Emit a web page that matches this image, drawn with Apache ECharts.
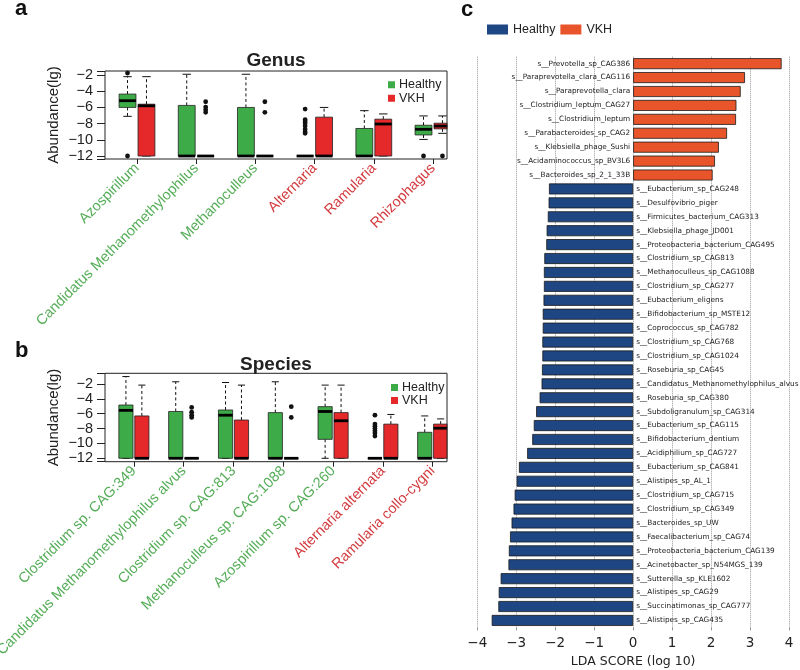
<!DOCTYPE html>
<html><head><meta charset="utf-8">
<script src="https://cdn.jsdelivr.net/npm/echarts@6/dist/echarts.min.js"></script>
<style>html,body{margin:0;padding:0;background:#fff}#c{width:800px;height:670px}</style>
</head><body><div id="c"></div>
<script>
// ---------- Panel a: Genus ----------
const genusCats = ['Azospirillum','Candidatus Methanomethylophilus','Methanoculleus','Alternaria','Ramularia','Rhizophagus'];
const genusEnriched = ['Healthy','Healthy','Healthy','VKH','VKH','VKH'];
// [min, Q1, median, Q3, max]
const genusHealthy = [
  [-7.1,-6.0,-5.17,-4.35,-2.2],
  [-12,-12,-12,-5.75,-1.9],
  [-12,-12,-12,-6.0,-1.9],
  [-12,-12,-12,-12,-12],
  [-12,-12,-12,-8.6,-6.4],
  [-9.95,-9.4,-8.7,-8.2,-7.05]
];
const genusHealthyOut = [[0,-1.75],[0,-12],[3,-6.2],[3,-7.5],[3,-7.7],[3,-7.95],[3,-8.3],[3,-8.7],[3,-9.0],[3,-9.2],[5,-12]];
const genusVKH = [
  [-12,-12,-5.8,-5.6,-2.2],
  [-12,-12,-12,-12,-12],
  [-12,-12,-12,-12,-12],
  [-12,-12,-12,-7.2,-6.0],
  [-12,-12,-8.05,-7.45,-6.8],
  [-9.2,-8.65,-8.3,-7.95,-7.05]
];
const genusVKHOut = [[1,-5.3],[1,-5.95],[1,-6.3],[1,-6.6],[2,-5.3],[2,-6.6],[5,-12]];

// ---------- Panel b: Species ----------
const speciesCats = ['Clostridium sp. CAG:349','Candidatus Methanomethylophilus alvus','Clostridium sp. CAG:813','Methanoculleus sp. CAG:1088','Azospirillum sp. CAG:260','Alternaria alternata','Ramularia collo-cygni'];
const speciesEnriched = ['Healthy','Healthy','Healthy','Healthy','Healthy','VKH','VKH'];
const speciesHealthy = [
  [-12,-12,-5.55,-4.83,-1.0],
  [-12,-12,-12,-5.7,-1.7],
  [-12,-12,-6.2,-5.5,-1.8],
  [-12,-12,-12,-5.85,-1.7],
  [-12,-9.45,-5.7,-5.05,-2.15],
  [-12,-12,-12,-12,-12],
  [-12,-12,-12,-8.5,-6.3]
];
const speciesHealthyOut = [[5,-6.2],[5,-7.4],[5,-7.7],[5,-8.0],[5,-8.3],[5,-8.6],[5,-9.0]];
const speciesVKH = [
  [-12,-12,-12,-6.3,-2.15],
  [-12,-12,-12,-12,-12],
  [-12,-12,-12,-6.85,-2.15],
  [-12,-12,-12,-12,-12],
  [-12,-12,-6.95,-5.85,-2.15],
  [-12,-12,-12,-7.4,-6.1],
  [-12,-12,-7.95,-7.4,-6.7]
];
const speciesVKHOut = [[1,-5.15],[1,-5.8],[1,-6.2],[1,-6.5],[3,-5.05],[3,-6.5]];

// ---------- Panel c: LDA ----------
const ldaNames = ['s__Prevotella_sp_CAG386','s__Paraprevotella_clara_CAG116','s__Paraprevotella_clara','s__Clostridium_leptum_CAG27','s__Clostridium_leptum','s__Parabacteroides_sp_CAG2','s__Klebsiella_phage_Sushi','s__Acidaminococcus_sp_BV3L6','s__Bacteroides_sp_2_1_33B','s__Eubacterium_sp_CAG248','s__Desulfovibrio_piger','s__Firmicutes_bacterium_CAG313','s__Klebsiella_phage_JD001','s__Proteobacteria_bacterium_CAG495','s__Clostridium_sp_CAG813','s__Methanoculleus_sp_CAG1088','s__Clostridium_sp_CAG277','s__Eubacterium_eligens','s__Bifidobacterium_sp_MSTE12','s__Coprococcus_sp_CAG782','s__Clostridium_sp_CAG768','s__Clostridium_sp_CAG1024','s__Roseburia_sp_CAG45','s__Candidatus_Methanomethylophilus_alvus','s__Roseburia_sp_CAG380','s__Subdoligranulum_sp_CAG314','s__Eubacterium_sp_CAG115','s__Bifidobacterium_dentium','s__Acidiphilium_sp_CAG727','s__Eubacterium_sp_CAG841','s__Alistipes_sp_AL_1','s__Clostridium_sp_CAG715','s__Clostridium_sp_CAG349','s__Bacteroides_sp_UW','s__Faecalibacterium_sp_CAG74','s__Proteobacteria_bacterium_CAG139','s__Acinetobacter_sp_N54MGS_139','s__Sutterella_sp_KLE1602','s__Alistipes_sp_CAG29','s__Succinatimonas_sp_CAG777','s__Alistipes_sp_CAG435'];
const ldaScores = [3.81,2.87,2.76,2.65,2.64,2.41,2.20,2.10,2.04,-2.16,-2.17,-2.19,-2.22,-2.23,-2.28,-2.29,-2.29,-2.30,-2.32,-2.32,-2.33,-2.33,-2.34,-2.35,-2.40,-2.49,-2.55,-2.59,-2.72,-2.93,-2.99,-3.04,-3.07,-3.12,-3.16,-3.19,-3.20,-3.40,-3.45,-3.46,-3.63];
const ldaGroup = ldaScores.map(v => v > 0 ? 'VKH' : 'Healthy');
const ldaTicks = [-4,-3,-2,-1,0,1,2,3,4];

// ---------- styling ----------
const GREEN='#3DAB48', RED='#E5292B', GREEN_T='#55AD58', RED_T='#D23A3E', NAVY='#1E4683', ORANGE='#E9552A';
const boxColor = {Healthy: GREEN, VKH: RED};
const textColor = {Healthy: GREEN_T, VKH: RED_T};
const FONT_R = '"Liberation Sans", Arial, Helvetica, sans-serif';
const FONT_M = '"DejaVu Sans", sans-serif';
const minus = v => (v < 0 ? '\u2212' + Math.abs(v) : String(v));

function boxRender(offsetFrac, widthFrac, fill) {
  return function (params, api) {
    const ci = api.value(0);
    const band = api.size([1, 0])[0];
    const cx = api.coord([ci, -12])[0] + offsetFrac * band;
    const w = widthFrac * band;
    const y = v => api.coord([ci, v])[1];
    const yMin = y(api.value(1)), yQ1 = y(api.value(2)), yMed = y(api.value(3)), yQ3 = y(api.value(4)), yMax = y(api.value(5));
    const cw = w * 0.5;
    const ls = {stroke:'#111', lineWidth:1};
    return {type:'group', children:[
      {type:'line', shape:{x1:cx,y1:yQ3,x2:cx,y2:yMax}, style:{stroke:'#111',lineWidth:1,lineDash:[3,2.5]}},
      {type:'line', shape:{x1:cx,y1:yQ1,x2:cx,y2:yMin}, style:{stroke:'#111',lineWidth:1,lineDash:[3,2.5]}},
      {type:'line', shape:{x1:cx-cw/2,y1:yMax,x2:cx+cw/2,y2:yMax}, style:ls},
      {type:'line', shape:{x1:cx-cw/2,y1:yMin,x2:cx+cw/2,y2:yMin}, style:ls},
      {type:'rect', shape:{x:cx-w/2,y:yQ3,width:w,height:yQ1-yQ3}, style:{fill:fill,stroke:'#222',lineWidth:0.8}},
      {type:'line', shape:{x1:cx-w/2,y1:yMed,x2:cx+w/2,y2:yMed}, style:{stroke:'#000',lineWidth:2.8}}
    ]};
  };
}
function outRender(offsetFrac) {
  return function (params, api) {
    const ci = api.value(0);
    const band = api.size([1, 0])[0];
    const p = api.coord([ci, api.value(1)]);
    return {type:'circle', shape:{cx:p[0] + offsetFrac*band, cy:p[1], r:2.4}, style:{fill:'#111'}};
  };
}
function boxSeries(name, stats, idx, off) {
  return {type:'custom', name, xAxisIndex:idx, yAxisIndex:idx, silent:true, z:3,
    itemStyle:{color: boxColor[name]},
    data: stats.map((s,i)=>[i].concat(s)), encode:{x:0, y:[1,2,3,4,5]},
    renderItem: boxRender(off, 0.285, boxColor[name])};
}
function outSeries(name, pts, idx, off) {
  return {type:'custom', name, xAxisIndex:idx, yAxisIndex:idx, silent:true, z:4,
    itemStyle:{color: boxColor[name]},
    data: pts, encode:{x:0, y:1}, renderItem: outRender(off)};
}
function catAxis(idx, cats, enriched) {
  return {type:'category', gridIndex:idx, boundaryGap:true,
    data: cats.map((c,i)=>({value:c, textStyle:{color:textColor[enriched[i]]}})),
    axisLine:{show:false}, axisTick:{show:true, alignWithLabel:true, length:5, lineStyle:{color:'#222'}},
    axisLabel:{rotate:45, margin:7, fontSize:14.5, fontFamily:FONT_R, interval:0}, splitLine:{show:false}};
}
function valAxis(idx, min, max, off) {
  return {type:'value', gridIndex:idx, min, max, splitNumber:5, offset:off,
    name:'Abundance(lg)', nameLocation:'middle', nameGap:44,
    nameTextStyle:{fontSize:15, color:'#222', fontFamily:FONT_R},
    axisLine:{show:false}, axisTick:{show:true, length:8, lineStyle:{color:'#222'}},
    axisLabel:{fontSize:14.5, color:'#222', fontFamily:FONT_R, margin:12,
      formatter: v => (Math.abs(v - Math.round(v)) < 1e-6 && Math.round(v) % 2 === 0) ? minus(Math.round(v)) : ''},
    splitLine:{show:false}};
}
function boxLegend(left, top, lh) {
  return {left, top, orient:'vertical', icon:'rect', itemWidth:7, itemHeight:7, itemGap:0,
    selectedMode:false,
    textStyle:{fontSize:12.5, color:'#222', fontFamily:FONT_R, lineHeight:lh, padding:[0,0,0,-1]},
    data:[{name:'Healthy', itemStyle:{color:GREEN, borderWidth:0}}, {name:'VKH', itemStyle:{color:RED, borderWidth:0}}]};
}

const option = {
  backgroundColor:'#fff',
  animation:false,
  grid:[
    {left:107.4, top:71, width:355.2, height:88, outerBoundsMode:'none'},
    {left:109, top:373.3, width:348.6, height:88.4, outerBoundsMode:'none'},
    {left:477.3, top:56.7, width:311.7, height:570.7, outerBoundsMode:'none'}
  ],
  legend:[
    boxLegend(383, 73, 13.5),
    boxLegend(386, 376, 12.7),
    {left:482, top:18, orient:'horizontal', icon:'rect', itemWidth:21, itemHeight:10, itemGap:5,
     selectedMode:false, textStyle:{fontSize:12.5, color:'#222', fontFamily:FONT_R},
     data:[{name:'Healthy', itemStyle:{color:NAVY, borderWidth:0}}, {name:'VKH', itemStyle:{color:ORANGE, borderWidth:0}}]}
  ],
  xAxis:[
    catAxis(0, genusCats, genusEnriched),
    catAxis(1, speciesCats, speciesEnriched),
    {type:'value', gridIndex:2, min:ldaTicks[0], max:ldaTicks[ldaTicks.length-1], interval:1,
     name:'LDA SCORE (log 10)', nameLocation:'middle', nameGap:27,
     nameTextStyle:{fontSize:12.5, color:'#222', fontFamily:FONT_M},
     axisLine:{show:false}, axisTick:{show:true, length:3, lineStyle:{color:'#999'}},
     axisLabel:{fontSize:13.5, color:'#222', fontFamily:FONT_M, margin:9, formatter: v => minus(v)},
     splitLine:{show:true, lineStyle:{type:'dotted', color:'#9a9a9a', width:1}}}
  ],
  yAxis:[
    valAxis(0, -12.37, -1.5, 2.4),
    valAxis(1, -12.46, -0.56, 4),
    {type:'category', gridIndex:2, inverse:true, data:ldaNames,
     axisLine:{show:false}, axisTick:{show:false}, axisLabel:{show:false}, splitLine:{show:false}}
  ],
  series:[
    boxSeries('Healthy', genusHealthy, 0, -0.16),
    boxSeries('VKH', genusVKH, 0, 0.16),
    outSeries('Healthy', genusHealthyOut, 0, -0.16),
    outSeries('VKH', genusVKHOut, 0, 0.16),
    boxSeries('Healthy', speciesHealthy, 1, -0.16),
    boxSeries('VKH', speciesVKH, 1, 0.16),
    outSeries('Healthy', speciesHealthyOut, 1, -0.16),
    outSeries('VKH', speciesVKHOut, 1, 0.16),
    {type:'bar', name:'Healthy', xAxisIndex:2, yAxisIndex:2, barWidth:11, barGap:'-100%',
     data: ldaScores.map((v,i)=> ldaGroup[i]==='Healthy' ? v : '-'),
     itemStyle:{color:NAVY, borderColor:'#1a1a1a', borderWidth:0.8},
     label:{show:true, position:'right', distance:3, fontSize:7.3, fontFamily:FONT_M, color:'#222',
       formatter: p => ldaNames[p.dataIndex]}},
    {type:'bar', name:'VKH', xAxisIndex:2, yAxisIndex:2, barWidth:11, barGap:'-100%',
     data: ldaScores.map((v,i)=> ldaGroup[i]==='VKH' ? v : '-'),
     itemStyle:{color:ORANGE, borderColor:'#1a1a1a', borderWidth:0.8},
     label:{show:true, position:'left', distance:3, fontSize:7.3, fontFamily:FONT_M, color:'#222',
       formatter: p => ldaNames[p.dataIndex]}}
  ],
  graphic:[
    {type:'rect', z:100, shape:{x:447.5, y:95, width:14, height:67}, style:{fill:'#fff'}},
    {type:'rect', z:100, shape:{x:447.5, y:400, width:14, height:64}, style:{fill:'#fff'}},
    {type:'rect', z:101, shape:{x:105, y:71, width:342, height:88}, style:{fill:'none', stroke:'#222', lineWidth:1}},
    {type:'rect', z:101, shape:{x:105, y:373.3, width:342, height:88.4}, style:{fill:'none', stroke:'#222', lineWidth:1}},
    {type:'text', z:101, x:15, y:9, style:{text:'a', font:'bold 22px '+FONT_R, fill:'#111', align:'left', verticalAlign:'middle'}},
    {type:'text', z:101, x:15, y:351, style:{text:'b', font:'bold 22px '+FONT_R, fill:'#111', align:'left', verticalAlign:'middle'}},
    {type:'text', z:101, x:461, y:10, style:{text:'c', font:'bold 22px '+FONT_R, fill:'#111', align:'left', verticalAlign:'middle'}},
    {type:'text', z:101, x:276, y:61, style:{text:'Genus', font:'bold 19px '+FONT_R, fill:'#222', align:'center', verticalAlign:'middle'}},
    {type:'text', z:101, x:276, y:365, style:{text:'Species', font:'bold 19px '+FONT_R, fill:'#222', align:'center', verticalAlign:'middle'}}
  ]
};
const chart = echarts.init(document.getElementById('c'), null, {renderer:'canvas'});
chart.setOption(option);
</script></body></html>
